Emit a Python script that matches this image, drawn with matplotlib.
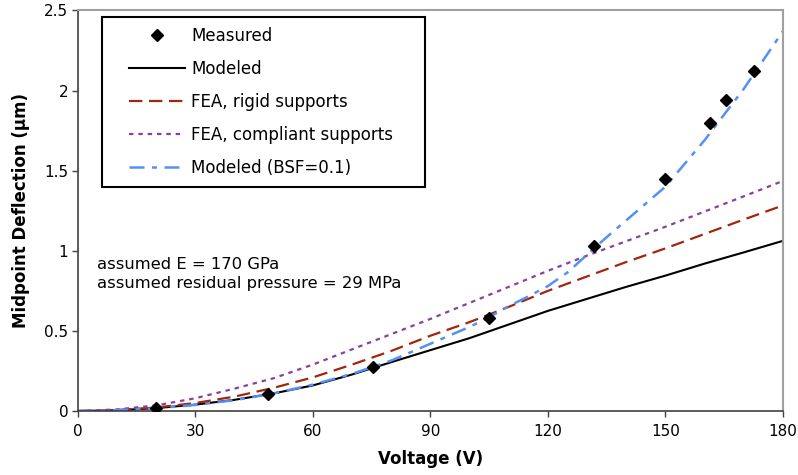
import matplotlib
matplotlib.use("Agg")
import matplotlib.pyplot as plt
from matplotlib.patches import Rectangle

# ---------------- data ----------------
meas_v = [19.8, 48.5, 75.4, 104.9, 131.9, 150.0, 161.4, 165.5, 172.7]
meas_d = [0.017, 0.104, 0.275, 0.582, 1.032, 1.45, 1.80, 1.94, 2.12]

grid_v = [0, 10, 20, 30, 40, 50, 60, 70, 80, 90, 100, 110, 120, 130, 140, 150, 160, 170, 180]
modeled_d = [0, 0.005, 0.018, 0.04, 0.07, 0.11, 0.16, 0.228, 0.305, 0.38, 0.455, 0.54,
             0.625, 0.70, 0.775, 0.845, 0.92, 0.99, 1.062]
fea_rigid_d = [0, 0.006, 0.022, 0.05, 0.09, 0.145, 0.21, 0.29, 0.375, 0.47, 0.555, 0.65,
               0.75, 0.84, 0.93, 1.015, 1.105, 1.195, 1.283]
fea_compliant_d = [0, 0.01, 0.035, 0.08, 0.14, 0.205, 0.29, 0.385, 0.48, 0.575, 0.675, 0.775,
                   0.875, 0.97, 1.06, 1.15, 1.245, 1.34, 1.436]

bsf_v = [0, 10, 20, 30, 40, 50, 60, 70, 80, 90, 100, 105, 110, 115, 120, 125, 130, 135,
         140, 145, 150, 160, 170, 180]
bsf_d = [0, 0.005, 0.017, 0.038, 0.068, 0.11, 0.165, 0.232, 0.315, 0.42, 0.525, 0.585,
         0.655, 0.715, 0.78, 0.865, 0.975, 1.085, 1.19, 1.295, 1.40, 1.69, 2.01, 2.37]

labels = ["Measured", "Modeled", "FEA, rigid supports", "FEA, compliant supports",
          "Modeled (BSF=0.1)"]
annotation = "assumed E = 170 GPa\nassumed residual pressure = 29 MPa"
x_ticks = [0, 30, 60, 90, 120, 150, 180]
y_ticks = [0, 0.5, 1, 1.5, 2, 2.5]
y_tick_labels = ["0", "0.5", "1", "1.5", "2", "2.5"]

# ---------------- figure ----------------
plt.rcParams['font.family'] = ['DejaVu Sans']
fig = plt.figure(figsize=(7.98, 4.75), dpi=100)
ax = fig.add_axes([0.0977, 0.1347, 0.8833, 0.8432])

c_red = "#a2260e"
c_purple = "#8a3fa0"
c_blue = "#5590f5"

l_mod, = ax.plot(grid_v, modeled_d, color="black", lw=1.5, label=labels[1])
l_rig, = ax.plot(grid_v, fea_rigid_d, color=c_red, lw=1.6, dashes=(6, 3), label=labels[2])
l_com, = ax.plot(grid_v, fea_compliant_d, color=c_purple, lw=1.6, dashes=(2, 2.2), label=labels[3])
l_bsf, = ax.plot(bsf_v, bsf_d, color=c_blue, lw=1.8, dashes=(6, 3, 2, 3), label=labels[4])
l_meas, = ax.plot(meas_v, meas_d, linestyle="none", marker="D", color="black",
                  markersize=5.8, label=labels[0], zorder=5)

ax.set_xlim(0, 180)
ax.set_ylim(0, 2.5)
ax.set_xticks(x_ticks)
ax.set_yticks(y_ticks)
ax.set_yticklabels(y_tick_labels)
ax.tick_params(axis="both", direction="out", length=4, width=1, labelsize=11, color="#404040")
ax.tick_params(axis="x", pad=5)
ax.tick_params(axis="y", pad=3)
ax.tick_params(top=False, right=False)

for s in ["left", "bottom"]:
    ax.spines[s].set_color("#404040")
    ax.spines[s].set_linewidth(1.2)
for s in ["top", "right"]:
    ax.spines[s].set_color("#a0a0a0")
    ax.spines[s].set_linewidth(1.5)

ax.set_xlabel("Voltage (V)", fontsize=12, fontweight="bold", labelpad=8)
ax.set_ylabel("Midpoint Deflection (\u00b5m)", fontsize=12, fontweight="bold", labelpad=10)

ax.text(0.0275, 0.3425, annotation, transform=ax.transAxes, fontsize=11.8,
        ha="left", va="center", linespacing=1.35)

# legend frame
ax.add_patch(Rectangle((0.0336, 0.559), 0.4594, 0.425, transform=ax.transAxes,
                       facecolor="white", edgecolor="black", lw=1.5, zorder=6))
leg = ax.legend([l_meas, l_mod, l_rig, l_com, l_bsf], labels, loc="upper left",
                bbox_to_anchor=(0.072, 0.96), frameon=False, fontsize=12,
                handlelength=3.4, handletextpad=0.35, labelspacing=0.9,
                borderpad=0.0, borderaxespad=0.0)
leg.set_zorder(7)

fig.savefig("out.png", dpi=100)
